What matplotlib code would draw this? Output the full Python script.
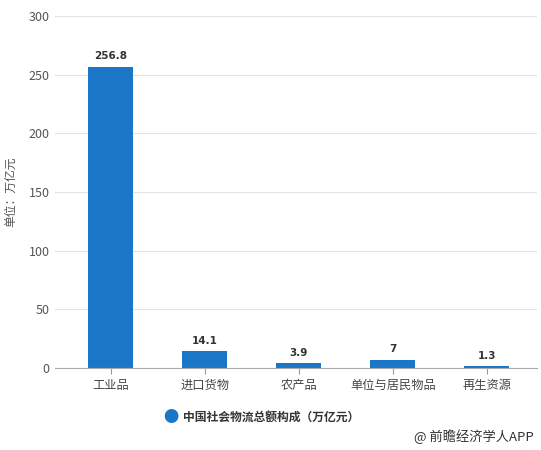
import matplotlib
matplotlib.use("Agg")
import matplotlib.pyplot as plt

plt.rcParams['font.family'] = ['Noto Sans CJK SC', 'DejaVu Sans']

categories = ["工业品", "进口货物", "农产品", "单位与居民物品", "再生资源"]
values = [256.8, 14.1, 3.9, 7, 1.3]
value_labels = ["256.8", "14.1", "3.9", "7", "1.3"]
y_ticks = [0, 50, 100, 150, 200, 250, 300]

BAR_COLOR = "#1a76c6"

fig = plt.figure(figsize=(5.41, 4.5), dpi=100)
ax = fig.add_axes([55 / 541, 82 / 450, 482 / 541, 352 / 450])

x = range(len(categories))
ax.bar(x, values, width=0.48, color=BAR_COLOR, zorder=3)
for xi, v, lab in zip(x, values, value_labels):
    ax.annotate(lab, (xi, v), xytext=(0, 4), textcoords="offset points",
                ha="center", va="bottom", fontsize=7.5, fontweight="bold",
                family="DejaVu Sans", color="#333333")

ax.set_xlim(-0.593, len(categories) - 1 + 0.535)
ax.set_ylim(0, 300)
ax.set_yticks(y_ticks)
ax.set_xticks(list(x))
ax.set_xticklabels(categories, fontsize=8.8, color="#444444")
ax.tick_params(axis="y", length=0, labelsize=9, labelcolor="#555555", pad=4)
ax.tick_params(axis="x", length=4, color="#999999", pad=4)
ax.yaxis.grid(True, color="#e3e3e3", linewidth=0.8, zorder=0)
for side in ["top", "right", "left"]:
    ax.spines[side].set_visible(False)
ax.spines["bottom"].set_color("#aaaaaa")
ax.spines["bottom"].set_zorder(4)

ax.set_ylabel("单位：万亿元", fontsize=8.5, color="#555555", labelpad=8)

# legend
fig.text(0.315, 0.073, "●", fontsize=11, color=BAR_COLOR, ha="center", va="center")
fig.text(0.338, 0.073, "中国社会物流总额构成（万亿元）", fontsize=8.5,
         fontweight="bold", color="#333333", ha="left", va="center")

fig.text(0.987, 0.029, "@ 前瞻经济学人APP", fontsize=9.5, color="#333333",
         ha="right", va="center")

fig.savefig("out.png", dpi=100)
